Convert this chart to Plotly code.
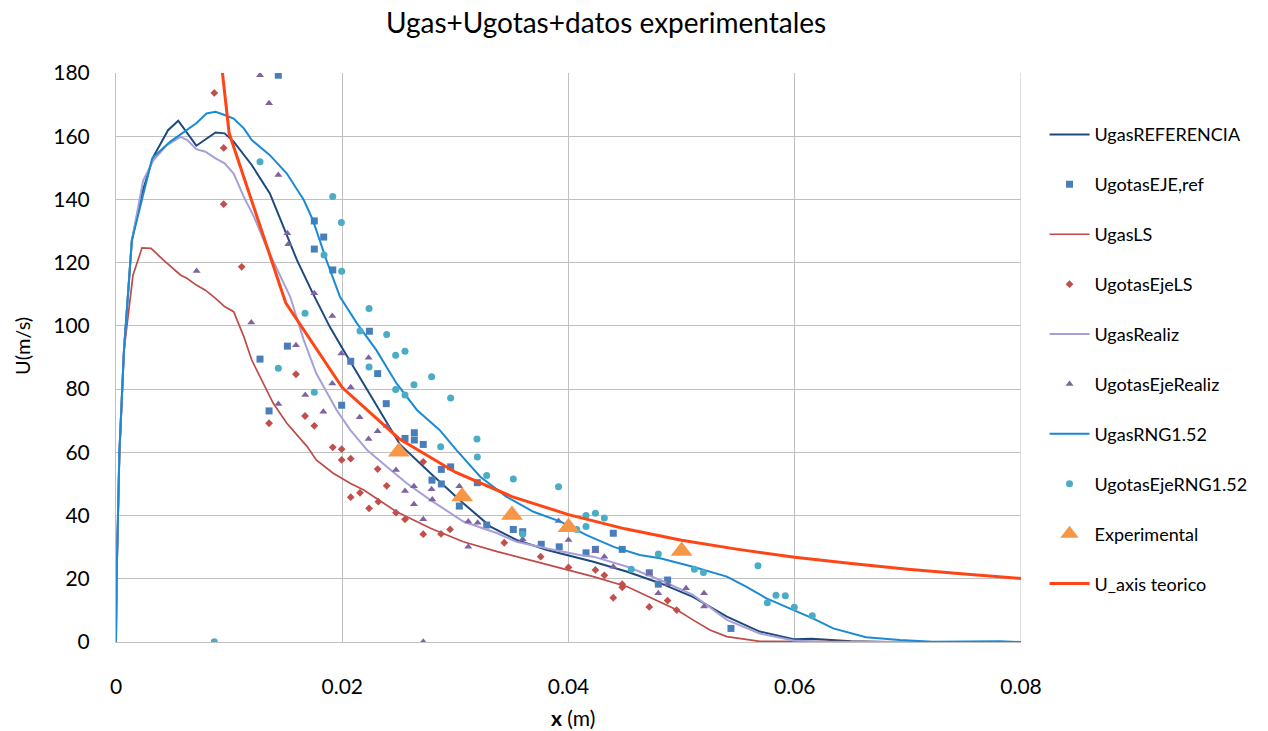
import plotly.graph_objects as go

# ---- gas-phase axial velocity curves (x in m, U in m/s) ----
x_ref = [0, 0.00005, 0.0003, 0.0007, 0.0014, 0.0023, 0.0033, 0.0046, 0.0055, 0.0071, 0.0088,
         0.0096, 0.0104, 0.012, 0.0136, 0.0149, 0.016, 0.0174, 0.0189, 0.0201, 0.0219,
         0.0233, 0.0251, 0.0278, 0.0307, 0.0331, 0.0354, 0.0381, 0.041, 0.0422, 0.0452,
         0.0481, 0.051, 0.054, 0.0569, 0.0599, 0.0615, 0.0635, 0.065, 0.068, 0.08]
u_ref = [0, 20, 60, 92, 127, 142, 153.5, 161.9, 164.9, 157, 161.2,
         160.9, 158.3, 150.9, 141.9, 130.3, 120.8, 110.3, 99.7, 92.4, 81.8,
         73.4, 62.5, 53.4, 43.9, 36.5, 32.3, 29.1, 26.5, 25.4, 22.2,
         18.6, 14.3, 8, 3.3, 0.9, 1.0, 0.6, 0.2, 0, 0]

x_ls = [0, 0.00005, 0.0003, 0.0007, 0.0015, 0.0023, 0.0031, 0.0042, 0.0057, 0.0063, 0.0071,
        0.0079, 0.0088, 0.0096, 0.0104, 0.0113, 0.012, 0.013, 0.0139, 0.0151, 0.0169,
        0.0177, 0.0192, 0.0207, 0.0219, 0.0248, 0.0278, 0.0307, 0.0337, 0.0366, 0.0395,
        0.0422, 0.0452, 0.0481, 0.0496, 0.051, 0.0525, 0.054, 0.0554, 0.0569, 0.08]
u_ls = [0, 20, 58, 92, 116, 124.7, 124.5, 120.8, 116.1, 115, 112.9,
        111.3, 108.7, 106.1, 104.5, 96.6, 89.2, 81.8, 75.5, 69.2, 61.8,
        57.6, 53.4, 50.2, 48.1, 41.2, 36, 31.7, 28.6, 25.9, 23.3,
        20.7, 17.5, 12.7, 10.1, 7, 3.8, 1.7, 0.9, 0.2, 0]

x_realiz = [0, 0.00005, 0.0003, 0.0007, 0.0014, 0.0024, 0.0033, 0.0045, 0.0057, 0.0063, 0.0071,
            0.0079, 0.0088, 0.0096, 0.0104, 0.0113, 0.0122, 0.0133, 0.0154, 0.0166, 0.0177,
            0.0195, 0.0207, 0.0222, 0.0236, 0.0257, 0.0278, 0.0307, 0.0337, 0.0354, 0.0381,
            0.041, 0.0422, 0.0452, 0.0481, 0.051, 0.054, 0.0569, 0.0599, 0.063, 0.08]
u_realiz = [0, 20, 60, 92, 127, 146, 152.4, 157.2, 159.8, 158.8, 155.9,
            155.1, 153, 151.4, 148.2, 140.8, 134.5, 125, 109.2, 95.5, 85,
            73.4, 67.1, 60.7, 56.5, 50.2, 44.9, 38.1, 34.4, 31.7, 29.6,
            27.5, 27, 23.8, 19.6, 14.9, 7, 2.7, 0.5, 0, 0]

x_rng = [0, 0.00005, 0.0003, 0.0007, 0.0014, 0.0024, 0.0032, 0.0048, 0.006, 0.0071, 0.008,
         0.0088, 0.0096, 0.0104, 0.0113, 0.012, 0.0136, 0.0151, 0.0166, 0.0174, 0.0186,
         0.0198, 0.0213, 0.023, 0.0248, 0.0266, 0.0286, 0.0301, 0.0322, 0.0345, 0.0369,
         0.0393, 0.0416, 0.044, 0.0463, 0.0481, 0.051, 0.054, 0.0557, 0.0575, 0.0599,
         0.0616, 0.0634, 0.0663, 0.0693, 0.0722, 0.0781, 0.08]
u_rng = [0, 20, 60, 92, 127, 142, 153, 158.3, 161.4, 164.1, 167.2,
         167.7, 166.7, 165.6, 162.5, 158.8, 154, 148.2, 139.8, 133.5, 120.8,
         109.2, 100.8, 92.4, 81.8, 73.4, 67.1, 60.7, 52.3, 46, 41.2,
         38.1, 33.8, 30.1, 27.5, 26.5, 23.8, 20.7, 17.5, 13.8, 10.1,
         7.5, 4.3, 1.5, 0.6, 0.1, 0.2, 0]

# ---- theoretical axial velocity ----
x_teo = [0.005, 0.01, 0.015, 0.02, 0.025, 0.03, 0.035, 0.04, 0.045, 0.05, 0.055,
         0.06, 0.065, 0.07, 0.075, 0.08]
u_teo = [322, 161, 107.3, 80.5, 64.4, 53.7, 46, 40.3, 35.8, 32.2, 29.3,
         26.8, 24.8, 23, 21.5, 20.1]

# ---- experimental points ----
x_exp = [0.025, 0.0306, 0.035, 0.04, 0.05]
u_exp = [60.2, 46, 40.2, 36.3, 28.8]

# ---- droplet axial velocities ----
x_got_ref = [0.01435, 0.01273, 0.01353, 0.01515, 0.01753, 0.01753, 0.01836, 0.01916, 0.01995,
             0.02075, 0.0224, 0.02313, 0.02389, 0.02555, 0.02637, 0.02637, 0.02716, 0.02793,
             0.02876, 0.02876, 0.02958, 0.03035, 0.03194, 0.03277, 0.03512, 0.03595, 0.03759,
             0.03918, 0.04155, 0.04238, 0.04396, 0.04475, 0.04714, 0.04794, 0.04876, 0.05436]
u_got_ref = [179.3, 89.5, 73.1, 93.6, 133.2, 124.3, 128.1, 117.7, 74.9,
             88.8, 98.3, 84.9, 75.4, 64.4, 66.2, 63.9, 62.5, 51.2,
             54.6, 50, 55.4, 43, 50.4, 37, 35.6, 34.9, 30.9,
             30.1, 28.2, 29.3, 34.4, 29.3, 21.9, 18.3, 19.6, 4.3]

x_got_ls = [0.00869, 0.00952, 0.00952, 0.01111, 0.01353, 0.01591, 0.01671, 0.01753, 0.01916,
            0.01995, 0.01995, 0.02075, 0.02075, 0.02157, 0.02237, 0.02313, 0.02319, 0.02393,
            0.02475, 0.02555, 0.02716, 0.02716, 0.02873, 0.02953, 0.03432, 0.03754, 0.04,
            0.04238, 0.04317, 0.04396, 0.04475, 0.04475, 0.04714, 0.04876, 0.04956]
u_got_ls = [173.7, 156.3, 138.5, 118.7, 69.2, 84.7, 71.5, 68.4, 61.6,
            61, 57.6, 58, 45.8, 47.2, 42.3, 54.7, 44.4, 49.4,
            40.9, 38.8, 57, 34.1, 34.2, 35.6, 31.4, 27, 23.6,
            22.8, 21.1, 14, 18.3, 17.3, 11.1, 13.1, 10.1]

x_got_realiz = [0.00713, 0.01196, 0.01273, 0.01353, 0.01435, 0.01435, 0.01515, 0.01523, 0.01591,
                0.01673, 0.01753, 0.01833, 0.01912, 0.01912, 0.01992, 0.02075, 0.02154, 0.02233,
                0.02233, 0.02313, 0.02393, 0.02475, 0.02555, 0.02634, 0.02634, 0.02716, 0.02716,
                0.0279, 0.02796, 0.03035, 0.03114, 0.03114, 0.03197, 0.03595, 0.03912, 0.04,
                0.04238, 0.04317, 0.04396, 0.04714, 0.04794, 0.04876, 0.05039, 0.05198, 0.05198]
u_got_realiz = [117.4, 101.1, 179.3, 170.4, 147.7, 75.3, 129.3, 125.8, 93.9,
                78.1, 110.3, 72.8, 103.1, 81.8, 91.3, 80.6, 71.1, 89.9,
                64.2, 66.7, 68.3, 54.4, 47.8, 49.3, 43.6, 38.8, 0.1,
                48.3, 45.1, 49.3, 38.1, 30.1, 37.7, 32.5, 38.3, 32.3,
                28.8, 27, 23.8, 21.7, 15.4, 18.3, 17, 15.4, 11.2]

x_got_rng = [0.00869, 0.01273, 0.01435, 0.01671, 0.01753, 0.01839, 0.01916, 0.01992, 0.01995,
             0.02157, 0.02237, 0.02237, 0.02393, 0.02472, 0.02472, 0.02555, 0.02555, 0.02634,
             0.0279, 0.0287, 0.02958, 0.03191, 0.03194, 0.03277, 0.03512, 0.03595, 0.03912,
             0.04073, 0.04155, 0.04155, 0.04238, 0.04317, 0.04555, 0.04794, 0.05113, 0.05193,
             0.05675, 0.05758, 0.05834, 0.05917, 0.05996, 0.06155]
u_got_rng = [0.1, 151.9, 86.6, 104, 79, 122.4, 140.9, 132.7, 117.3,
             98.4, 105.5, 87, 97.3, 90.7, 79.9, 92, 78.1, 81.4,
             83.9, 61.8, 77.2, 64.2, 58.5, 52.7, 51.6, 34.2, 49.1,
             35.6, 40, 36.5, 40.7, 39.2, 23, 27.8, 23, 22,
             24.1, 12.4, 14.8, 14.6, 11, 8.3]

x_ticks = [0, 0.02, 0.04, 0.06, 0.08]
x_tick_labels = ["0", "0.02", "0.04", "0.06", "0.08"]

FONT = "Lato"
GRID = "#c0c0c0"

fig = go.Figure()


def line(name, x, y, color, width):
    fig.add_trace(go.Scatter(x=x, y=y, mode="lines", name=name, legendgroup=name,
                             line=dict(color=color, width=width), cliponaxis=True))


def dots(name, x, y, color, symbol, size):
    fig.add_trace(go.Scatter(x=x, y=y, mode="markers", name=name, legendgroup=name,
                             marker=dict(color=color, symbol=symbol, size=size,
                                         line=dict(width=0)), cliponaxis=True))


line("UgasREFERENCIA", x_ref, u_ref, "#1c4a7e", 2)
dots("UgotasEJE,ref", x_got_ref, u_got_ref, "#4a7ebb", "square", 7)
line("UgasLS", x_ls, u_ls, "#be4b48", 1.7)
dots("UgotasEjeLS", x_got_ls, u_got_ls, "#c0504d", "diamond", 6)
line("UgasRealiz", x_realiz, u_realiz, "#a6a0d6", 2)
dots("UgotasEjeRealiz", x_got_realiz, u_got_realiz, "#7f63a1", "triangle-up", 7)
line("UgasRNG1.52", x_rng, u_rng, "#1a8ad4", 2)
dots("UgotasEjeRNG1.52", x_got_rng, u_got_rng, "#4bacc6", "circle", 7)
dots("Experimental", x_exp, u_exp, "#f79646", "triangle-up", 19)
line("U_axis teorico", x_teo, u_teo, "#ff4516", 3)

fig.update_layout(
    width=1268, height=731,
    paper_bgcolor="white", plot_bgcolor="white",
    margin=dict(l=116, r=247, t=73, b=89, autoexpand=False),
    font=dict(family=FONT, color="#000000"),
    title=dict(text="Ugas+Ugotas+datos experimentales", x=0.478, xanchor="center",
               y=0.968, yanchor="middle", font=dict(family=FONT, size=28, color="#000000")),
    showlegend=True,
    legend=dict(x=1.026, xanchor="left", y=0.924, yanchor="top", tracegroupgap=23.5,
                font=dict(family=FONT, size=18, color="#000000"),
                bgcolor="rgba(0,0,0,0)", itemwidth=40),
    annotations=[
        dict(text="U(m/s)", xref="paper", yref="paper", x=-0.104, y=0.52,
             xanchor="center", yanchor="middle", textangle=-90, showarrow=False,
             font=dict(family=FONT, size=20, color="#000000")),
        dict(text="<b>x</b> (m)", xref="paper", yref="paper", x=0.505, y=-0.133,
             xanchor="center", yanchor="middle", showarrow=False,
             font=dict(family=FONT, size=21, color="#000000")),
    ],
)

fig.update_xaxes(
    range=[0, 0.08], tickvals=x_ticks, ticktext=x_tick_labels, automargin=False,
    showgrid=True, gridcolor=GRID, gridwidth=1,
    showline=True, linecolor=GRID, mirror=False,
    zeroline=False, ticks="", ticklabelstandoff=26,
    tickfont=dict(family=FONT, size=21, color="#000000"),
)
fig.update_yaxes(
    range=[0, 180], dtick=20, automargin=False,
    showgrid=True, gridcolor=GRID, gridwidth=1,
    showline=True, linecolor=GRID,
    zeroline=False, ticks="", ticklabelstandoff=21,
    tickfont=dict(family=FONT, size=21, color="#000000"),
)

# right-hand frame edge at x = 0.08
fig.add_shape(type="line", xref="x", yref="paper", x0=0.08, x1=0.08, y0=0, y1=1,
              line=dict(color=GRID, width=1), layer="below")

fig.write_html("out.html")
